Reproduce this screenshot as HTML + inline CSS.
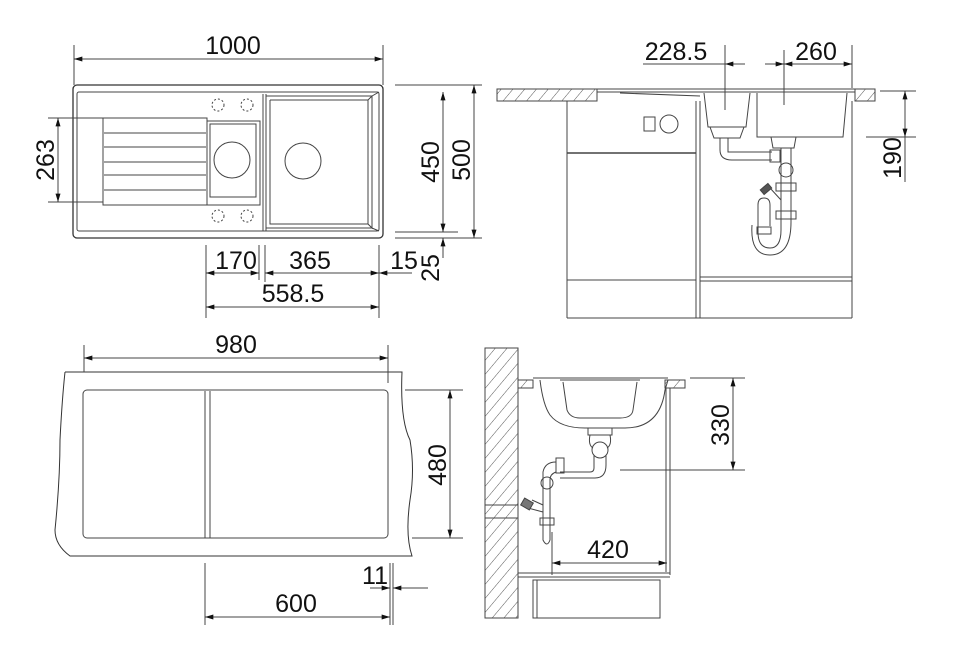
<!DOCTYPE html>
<html><head><meta charset="utf-8"><style>
html,body{margin:0;padding:0;background:#fff;}
svg{display:block}
text{font-family:"Liberation Sans",Arial,sans-serif;font-size:25px;fill:#111}
</style></head><body>
<svg width="954" height="668" viewBox="0 0 954 668" xmlns="http://www.w3.org/2000/svg">
<defs>
<pattern id="h" width="9" height="9" patternUnits="userSpaceOnUse" patternTransform="rotate(40)">
<line x1="0" y1="0" x2="0" y2="9" stroke="#555" stroke-width="1"/>
</pattern>
<marker id="a" viewBox="0 0 10 6" refX="10" refY="3" markerWidth="13" markerHeight="5" orient="auto-start-reverse" markerUnits="userSpaceOnUse"><path d="M0,0 L10,3 L0,6z" fill="#111"/></marker>
</defs>
<g fill="none" stroke="#444" stroke-width="1">
<!-- ===== TOP LEFT ===== -->
<line x1="74" y1="45" x2="74" y2="85"/><line x1="383" y1="45" x2="383" y2="85"/>
<line x1="74" y1="59" x2="383" y2="59" marker-start="url(#a)" marker-end="url(#a)"/>
<rect x="73" y="85" width="310" height="153" rx="4" stroke="#333" stroke-width="1.3"/>
<rect x="77" y="92" width="302" height="139" rx="2"/>
<rect x="103" y="118" width="104" height="87"/>
<line x1="104" y1="133" x2="206" y2="133"/><line x1="104" y1="147" x2="206" y2="147"/>
<line x1="104" y1="162" x2="206" y2="162"/><line x1="104" y1="175" x2="206" y2="175"/><line x1="104" y1="190" x2="206" y2="190"/>
<rect x="207" y="121" width="53" height="84"/>
<rect x="210" y="124" width="46" height="73"/>
<circle cx="232" cy="160" r="18"/>
<line x1="263" y1="94" x2="263" y2="231"/><line x1="266" y1="94" x2="266" y2="231"/>
<path d="M266,96 L372,96 L379,92 M270,100 L368,100 L372,96 M270,100 L270,224 L368,224 L368,100 M266,228 L372,228 L379,231 M368,224 L372,228 L372,96"/>
<circle cx="303" cy="161" r="18"/>
<g stroke-dasharray="2,2"><circle cx="218" cy="105" r="6"/><circle cx="247" cy="105" r="6"/><circle cx="218" cy="216" r="6"/><circle cx="247" cy="216" r="6"/></g>
<line x1="48" y1="118" x2="103" y2="118"/><line x1="48" y1="202" x2="103" y2="202"/>
<line x1="58" y1="118" x2="58" y2="202" marker-start="url(#a)" marker-end="url(#a)"/>
<line x1="395" y1="85" x2="482" y2="85"/><line x1="395" y1="232" x2="458" y2="232"/><line x1="395" y1="238" x2="482" y2="238"/>
<line x1="443" y1="92" x2="443" y2="232" marker-start="url(#a)" marker-end="url(#a)"/>
<line x1="474" y1="85" x2="474" y2="238" marker-start="url(#a)" marker-end="url(#a)"/>
<line x1="443" y1="258" x2="443" y2="238" marker-end="url(#a)"/>
<line x1="206" y1="245" x2="206" y2="318"/><line x1="259" y1="245" x2="259" y2="280"/>
<line x1="265" y1="245" x2="265" y2="282"/><line x1="379" y1="245" x2="379" y2="318"/>
<line x1="206" y1="273" x2="259" y2="273" marker-start="url(#a)" marker-end="url(#a)"/>
<line x1="265" y1="273" x2="379" y2="273" marker-start="url(#a)" marker-end="url(#a)"/>
<line x1="412" y1="273" x2="379" y2="273" marker-end="url(#a)"/>
<line x1="206" y1="307" x2="379" y2="307" marker-start="url(#a)" marker-end="url(#a)"/>
<!-- ===== TOP RIGHT ===== -->
<rect x="497" y="89" width="100" height="12" fill="url(#h)"/>
<rect x="855" y="89" width="20" height="12" fill="url(#h)"/>
<path d="M597,89 L855,89 M597,92 L855,92 M597,89 L597,101 M620,93 L700,96"/>
<line x1="567" y1="101" x2="567" y2="318"/><line x1="696" y1="101" x2="696" y2="318"/><line x1="700" y1="101" x2="700" y2="318"/>
<line x1="852" y1="101" x2="852" y2="318"/><line x1="567" y1="318" x2="852" y2="318"/>
<line x1="567" y1="153" x2="696" y2="153" stroke-width="1.5"/>
<line x1="567" y1="280" x2="696" y2="280"/><line x1="700" y1="277" x2="852" y2="277"/><line x1="700" y1="281" x2="852" y2="281"/>
<rect x="644" y="117" width="11" height="14"/><circle cx="669" cy="124" r="9"/>
<path d="M704,93 L708,127 L746,127 L750,93 M710,127 L714,138 L740,138 L744,127"/>
<path d="M757,93 L757,137 L843,137 L847,93 M771,137 L773,148 L794,148 L796,137"/>
<path d="M720,138 L720,150 Q720,160 732,160 L772,160 M728,138 L728,152 L772,152"/>
<rect x="770" y="150" width="10" height="12"/>
<path d="M781,148 L781,230 M791,148 L791,222"/>
<circle cx="786" cy="170" r="7"/>
<rect x="776" y="183" width="20" height="8"/><rect x="776" y="211" width="20" height="8"/>
<path d="M781,230 Q781,248 770,248 Q758,248 758,232 L758,205 M791,222 Q791,255 770,255 Q750,255 752,225"/>
<rect x="757" y="227" width="14" height="7"/>
<path d="M758,205 Q758,198 764,198 Q770,198 770,205 L770,226"/>
<path d="M781,200 L770,188" /><rect x="761" y="186" width="10" height="6" fill="#555" transform="rotate(-40 766 189)"/>
<line x1="725" y1="45" x2="725" y2="110"/><line x1="784" y1="50" x2="784" y2="105"/><line x1="852" y1="45" x2="852" y2="88"/>
<line x1="643" y1="64" x2="725" y2="64"/>
<line x1="725" y1="64" x2="745" y2="64" marker-start="url(#a)"/>
<line x1="765" y1="64" x2="784" y2="64" marker-end="url(#a)"/>
<line x1="784" y1="64" x2="852" y2="64" marker-start="url(#a)" marker-end="url(#a)"/>
<line x1="880" y1="91" x2="916" y2="91"/><line x1="866" y1="137" x2="916" y2="137"/>
<line x1="905" y1="91" x2="905" y2="137" marker-start="url(#a)" marker-end="url(#a)"/>
<line x1="905" y1="137" x2="905" y2="182"/>
<!-- ===== BOTTOM LEFT ===== -->
<path d="M65,372 L402,372 Q400,420 410,440 Q415,470 410,500 Q405,535 412,556 L70,556 Q55,545 55,530 Q60,480 60,440 Q62,400 65,372" stroke="#333"/>
<line x1="84" y1="345" x2="84" y2="372"/><line x1="388" y1="345" x2="388" y2="383"/>
<line x1="84" y1="358" x2="388" y2="358" marker-start="url(#a)" marker-end="url(#a)"/>
<rect x="83" y="390" width="305" height="148" rx="4"/>
<line x1="205" y1="391" x2="205" y2="538"/><line x1="210" y1="391" x2="210" y2="538"/>
<line x1="405" y1="390" x2="463" y2="390"/><line x1="412" y1="538" x2="463" y2="538"/>
<line x1="450" y1="390" x2="450" y2="538" marker-start="url(#a)" marker-end="url(#a)"/>
<line x1="205" y1="563" x2="205" y2="625"/><line x1="390" y1="563" x2="390" y2="625"/>
<line x1="205" y1="617" x2="390" y2="617" marker-start="url(#a)" marker-end="url(#a)"/>
<line x1="370" y1="588" x2="390" y2="588" marker-end="url(#a)"/>
<line x1="428" y1="588" x2="393" y2="588" marker-end="url(#a)"/>
<line x1="393" y1="563" x2="393" y2="625"/>
<!-- ===== BOTTOM RIGHT ===== -->
<rect x="485" y="348" width="33" height="270" fill="url(#h)"/>
<line x1="485" y1="505" x2="518" y2="505"/><line x1="485" y1="518" x2="518" y2="518"/>
<rect x="518" y="380" width="15" height="8" fill="url(#h)"/>
<rect x="665" y="380" width="20" height="8" fill="url(#h)"/>
<path d="M533,378 L668,378 M540,380 Q543,405 550,415 Q560,428 585,428 L625,428 Q660,428 665,390 L668,380"/>
<path d="M563,382 L567,410 Q570,418 580,418 L620,418 Q632,418 633,410 L637,382 M560,380 L640,380"/>
<path d="M588,428 L588,435 L612,435 L612,428 M590,435 Q588,445 593,448 M610,435 Q612,445 607,448"/>
<circle cx="600" cy="450" r="8"/>
<path d="M594,455 L594,468 Q594,472 590,472 L560,472 M606,455 L606,465 Q606,478 595,478 L560,478"/>
<rect x="556" y="458" width="8" height="15"/>
<path d="M556,462 Q545,462 543,472 L543,490 M556,472 Q550,474 550,480 L550,490"/>
<circle cx="547" cy="483" r="6"/>
<path d="M543,490 L543,540 Q547,548 550,540 L550,490"/>
<rect x="540" y="518" width="14" height="7"/>
<path d="M543,505 L532,500 M543,512 L528,508"/>
<rect x="522" y="500" width="10" height="8" fill="#777" transform="rotate(30 527 504)"/>
<line x1="670" y1="388" x2="670" y2="575"/><line x1="666" y1="388" x2="666" y2="572"/>
<line x1="518" y1="573" x2="670" y2="573"/><line x1="518" y1="577" x2="670" y2="577"/>
<rect x="533" y="580" width="127" height="38"/><line x1="537" y1="580" x2="537" y2="618"/>
<line x1="690" y1="378" x2="745" y2="378"/><line x1="620" y1="470" x2="745" y2="470"/>
<line x1="733" y1="378" x2="733" y2="470" marker-start="url(#a)" marker-end="url(#a)"/>
<line x1="552" y1="532" x2="552" y2="575"/>
<line x1="552" y1="563" x2="667" y2="563" marker-start="url(#a)" marker-end="url(#a)"/>
</g>
<!-- TEXT -->
<text x="233" y="54" text-anchor="middle">1000</text>
<text transform="translate(54,160) rotate(-90)" text-anchor="middle">263</text>
<text transform="translate(439,162) rotate(-90)" text-anchor="middle">450</text>
<text transform="translate(470,160) rotate(-90)" text-anchor="middle">500</text>
<text transform="translate(439,268) rotate(-90)" text-anchor="middle">25</text>
<text x="236" y="269" text-anchor="middle">170</text>
<text x="310" y="269" text-anchor="middle">365</text>
<text x="404" y="269" text-anchor="middle">15</text>
<text x="293" y="302" text-anchor="middle">558.5</text>
<text x="676" y="60" text-anchor="middle">228.5</text>
<text x="816" y="60" text-anchor="middle">260</text>
<text transform="translate(901,158) rotate(-90)" text-anchor="middle">190</text>
<text x="236" y="353" text-anchor="middle">980</text>
<text transform="translate(446,465) rotate(-90)" text-anchor="middle">480</text>
<text x="375" y="584" text-anchor="middle">11</text>
<text x="296" y="612" text-anchor="middle">600</text>
<text transform="translate(729,425) rotate(-90)" text-anchor="middle">330</text>
<text x="608" y="558" text-anchor="middle">420</text>
</svg>
</body></html>
